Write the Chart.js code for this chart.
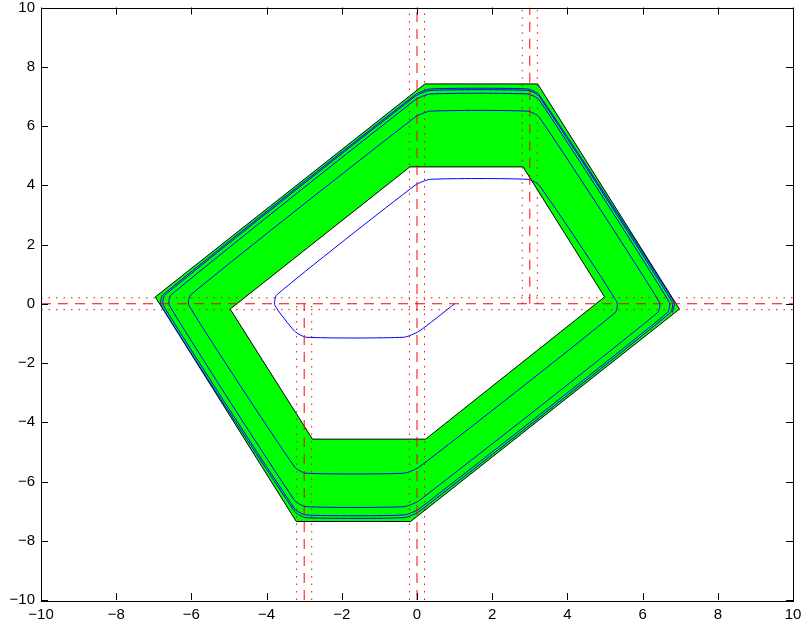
<!DOCTYPE html>
<html>
<head>
<meta charset="utf-8">
<script src="https://cdn.jsdelivr.net/npm/chart.js@4.4.0/dist/chart.umd.min.js"></script>
<style>
  html, body { margin: 0; padding: 0; background: #ffffff; }
  #chart { display: block; }
</style>
</head>
<body>
<canvas id="chart" width="803" height="628"></canvas>
<script>
// Tick values
const xTicks = [-10, -8, -6, -4, -2, 0, 2, 4, 6, 8, 10];
const yTicks = [-10, -8, -6, -4, -2, 0, 2, 4, 6, 8, 10];

// Outer boundary of the reach band
const outerX = [-6.96, 0.21, 3.21, 6.98, -0.17, -3.21, -6.96];
const outerY = [0.23, 7.42, 7.42, -0.18, -7.35, -7.35, 0.23];

// Inner boundary (hole)
const innerX = [-4.97, -0.19, 2.82, 4.99, 0.23, -2.78, -4.97];
const innerY = [-0.18, 4.62, 4.62, 0.23, -4.57, -4.57, -0.18];

// Trajectory, one row per turn of the spiral
const trajX = [
    1.0,
    0.05, -0.35, -2.95, -3.25, -3.78, -3.73, -0.05, 0.35, 2.95, 3.25, 5.32, 5.27,
    0.05, -0.35, -2.95, -3.25, -6.07, -6.02, -0.05, 0.35, 2.95, 3.25, 6.45, 6.40,
    0.05, -0.35, -2.95, -3.25, -6.59, -6.54, -0.05, 0.35, 2.95, 3.25, 6.71, 6.66,
    0.05, -0.35, -2.95, -3.25, -6.75, -6.70, -0.05, 0.35, 2.95, 3.25, 6.79, 6.74,
    0.05, -0.35, -2.95, -3.25, -6.81, -6.76, -0.05, 0.35, 2.95, 3.25, 6.84, 6.79
];
const trajY = [
    0.0,
    -0.93, -1.13, -1.13, -0.93, -0.05, 0.3, 4.0, 4.2, 4.2, 4.0, 0.05, -0.3,
    -5.52, -5.72, -5.72, -5.52, -0.05, 0.3, 6.3, 6.5, 6.5, 6.3, 0.05, -0.3,
    -6.65, -6.85, -6.85, -6.65, -0.05, 0.3, 6.88, 7.08, 7.08, 6.88, 0.05, -0.3,
    -6.93, -7.13, -7.13, -6.93, -0.05, 0.3, 7.0, 7.2, 7.2, 7.0, 0.05, -0.3,
    -7.02, -7.22, -7.22, -7.02, -0.05, 0.3, 7.05, 7.25, 7.25, 7.05, 0.05, -0.3
];

// Switching lines [x1, y1, x2, y2]
const dashedLines = [
    [0, -10, 0, 10],
    [3, 0, 3, 10],
    [-3, -10, -3, 0],
    [-10, 0, 10, 0]
];
const dottedLines = [
    [-0.2, -10, -0.2, 10],
    [0.2, -10, 0.2, 10],
    [2.8, 0, 2.8, 10],
    [3.2, 0, 3.2, 10],
    [-3.2, -10, -3.2, 0],
    [-2.8, -10, -2.8, 0],
    [-10, 0.2, 10, 0.2],
    [-10, -0.2, 10, -0.2]
];

const TICK_LEN = 7;
const FONT = { family: "'Liberation Sans', Arial, sans-serif", size: 15 };

function toPoints(xs, ys) {
    return xs.map((x, i) => ({ x: x, y: ys[i] }));
}

function segment(l) {
    return [{ x: l[0], y: l[1] }, { x: l[2], y: l[3] }];
}

function minusLabel(value) {
    return value < 0 ? '\u2212' + Math.abs(value) : String(value);
}

// Box around the axes with inward ticks on all four sides
const frameAndTicks = {
    id: 'frameAndTicks',
    afterDraw(chart) {
        const { ctx, chartArea: a, scales } = chart;
        ctx.save();
        ctx.strokeStyle = '#000000';
        ctx.lineWidth = 1;
        ctx.beginPath();
        xTicks.forEach(v => {
            const px = Math.round(scales.x.getPixelForValue(v)) + 0.5;
            ctx.moveTo(px, a.bottom);
            ctx.lineTo(px, a.bottom - TICK_LEN);
            ctx.moveTo(px, a.top);
            ctx.lineTo(px, a.top + TICK_LEN);
        });
        yTicks.forEach(v => {
            const py = Math.round(scales.y.getPixelForValue(v)) + 0.5;
            ctx.moveTo(a.left, py);
            ctx.lineTo(a.left + TICK_LEN, py);
            ctx.moveTo(a.right, py);
            ctx.lineTo(a.right - TICK_LEN, py);
        });
        ctx.stroke();
        ctx.strokeRect(Math.round(a.left) + 0.5, Math.round(a.top) + 0.5,
            Math.round(a.right - a.left), Math.round(a.bottom - a.top));
        ctx.restore();
    }
};

// First dataset in the list is drawn on top
const datasets = [];

dashedLines.forEach(l => {
    datasets.push({
        data: segment(l),
        borderColor: '#ff0000',
        borderWidth: 1,
        borderDash: [10, 7],
        fill: false
    });
});

dottedLines.forEach(l => {
    datasets.push({
        data: segment(l),
        borderColor: '#ff0000',
        borderWidth: 1,
        borderDash: [1.5, 6],
        fill: false
    });
});

datasets.push({
    data: toPoints(trajX, trajY),
    borderColor: '#0000ff',
    borderWidth: 1,
    tension: 0.2,
    fill: false
});

datasets.push({
    data: toPoints(innerX, innerY),
    borderColor: '#000000',
    backgroundColor: '#ffffff',
    borderWidth: 1,
    fill: 'shape'
});

datasets.push({
    data: toPoints(outerX, outerY),
    borderColor: '#000000',
    backgroundColor: '#00ff00',
    borderWidth: 1,
    fill: 'shape'
});

new Chart(document.getElementById('chart'), {
    type: 'line',
    data: { datasets: datasets },
    options: {
        responsive: false,
        animation: false,
        events: [],
        devicePixelRatio: 1,
        layout: { padding: { top: 7.5, right: 10, left: 0, bottom: 0 } },
        elements: {
            point: { radius: 0 },
            line: { borderJoinStyle: 'miter' }
        },
        plugins: {
            legend: { display: false },
            tooltip: { enabled: false }
        },
        scales: {
            x: {
                type: 'linear',
                min: -10,
                max: 10,
                grid: { display: false, drawTicks: false },
                border: { display: false },
                afterBuildTicks: s => { s.ticks = xTicks.map(v => ({ value: v })); },
                afterFit: s => {
                    s.height = 28;
                    s.paddingLeft = 0;
                    s.paddingRight = 0;
                },
                ticks: {
                    color: '#000000',
                    font: FONT,
                    padding: 6,
                    maxRotation: 0,
                    autoSkip: false,
                    callback: minusLabel
                }
            },
            y: {
                type: 'linear',
                min: -10,
                max: 10,
                grid: { display: false, drawTicks: false },
                border: { display: false },
                afterBuildTicks: s => { s.ticks = yTicks.map(v => ({ value: v })); },
                afterFit: s => {
                    s.width = 41;
                    s.paddingTop = 0;
                    s.paddingBottom = 0;
                },
                ticks: {
                    color: '#000000',
                    font: FONT,
                    padding: 6,
                    autoSkip: false,
                    callback: minusLabel
                }
            }
        }
    },
    plugins: [frameAndTicks]
});
</script>
</body>
</html>
